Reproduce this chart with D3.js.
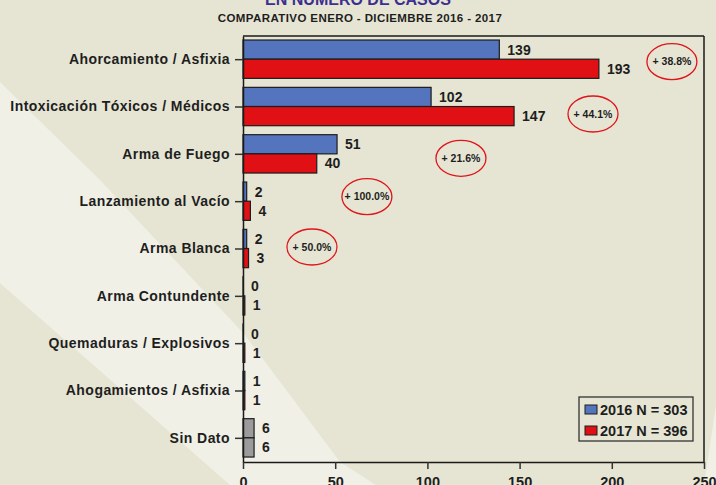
<!DOCTYPE html>
<html>
<head>
<meta charset="utf-8">
<script src="https://cdn.jsdelivr.net/npm/d3@7"></script>
<style>
  html, body { margin: 0; padding: 0; background: #e6e5d3; }
  svg { display: block; font-family: "Liberation Sans", Arial, sans-serif; }
</style>
</head>
<body>
<svg id="chart" width="716" height="485"></svg>
<script>
// ---- data ----
const categories = [
  "Ahorcamiento / Asfixia",
  "Intoxicación Tóxicos / Médicos",
  "Arma de Fuego",
  "Lanzamiento al Vacío",
  "Arma Blanca",
  "Arma Contundente",
  "Quemaduras / Explosivos",
  "Ahogamientos / Asfixia",
  "Sin Dato"
];
const values2016 = [139, 102, 51, 2, 2, 0, 0, 1, 6];
const values2017 = [193, 147, 40, 4, 3, 1, 1, 1, 6];
const xTicks = [0, 50, 100, 150, 200, 250];
const seriesNames = ["2016 N = 303", "2017 N = 396"];
const titleText = "EN NUMERO DE CASOS";
const subtitleText = "COMPARATIVO ENERO - DICIEMBRE 2016 - 2017";
const annotCategories = ["Ahorcamiento / Asfixia", "Intoxicación Tóxicos / Médicos", "Arma de Fuego", "Lanzamiento al Vacío", "Arma Blanca"];
const annotLabels = ["+ 38.8%", "+ 44.1%", "+ 21.6%", "+ 100.0%", "+ 50.0%"];
const annotXValues = [232.6, 189.8, 118.2, 67.2, 37.4];

// ---- layout ----
const W = 716, H = 485;
const plot = { left: 243, right: 704, top: 36, bottom: 462 };
const colors = { blue: "#5475bd", red: "#e11015", gray: "#9b9b9b", stroke: "#1c1c1c", text: "#1e1e1e" };

const svg = d3.select("#chart");

// background with light diagonal bands
svg.append("rect").attr("width", W).attr("height", H).attr("fill", "#e6e5d3");
svg.append("path")
  .attr("d", "M0,82 L100,180 L245,335 L340,462 L376,485 L230,485 L0,283 Z")
  .attr("fill", "#f0f0e6");
svg.append("path")
  .attr("d", "M716,405 L716,485 L704,485 Z")
  .attr("fill", "#f0f0e6");

const x = d3.scaleLinear().domain([0, 250]).range([plot.left, plot.right]);
const y = d3.scaleBand().domain(categories).range([plot.top, plot.bottom]).padding(0);
const bw = y.bandwidth();
const barOff = bw * 0.085, barH = bw * 0.405;

// frame (top and right)
svg.append("line").attr("x1", plot.left).attr("x2", plot.right).attr("y1", plot.top).attr("y2", plot.top)
  .attr("stroke", "#1a1a1a").attr("stroke-width", 1.5);
svg.append("line").attr("x1", plot.right).attr("x2", plot.right).attr("y1", plot.top).attr("y2", plot.bottom)
  .attr("stroke", "#1a1a1a").attr("stroke-width", 1.5);

// bars
const rows = categories.map((c, i) => ({ c, v16: values2016[i], v17: values2017[i] }));
const g = svg.append("g");
rows.forEach(r => {
  const isGray = r.c === "Sin Dato";
  // 2016
  g.append("rect")
    .attr("x", x(0)).attr("y", y(r.c) + barOff)
    .attr("width", Math.max(x(r.v16) - x(0), 0.01)).attr("height", barH)
    .attr("fill", isGray ? colors.gray : colors.blue)
    .attr("stroke", colors.stroke).attr("stroke-width", 1.2);
  // 2017
  g.append("rect")
    .attr("x", x(0)).attr("y", y(r.c) + barOff + barH)
    .attr("width", Math.max(x(r.v17) - x(0), 0.01)).attr("height", barH)
    .attr("fill", isGray ? colors.gray : colors.red)
    .attr("stroke", colors.stroke).attr("stroke-width", 1.2);
  // labels
  g.append("text")
    .attr("x", x(r.v16) + 8).attr("y", y(r.c) + barOff + barH / 2)
    .attr("dy", "0.36em")
    .attr("font-size", 14).attr("font-weight", "bold").attr("fill", colors.text)
    .text(r.v16);
  g.append("text")
    .attr("x", x(r.v17) + 8).attr("y", y(r.c) + barOff + barH * 1.5)
    .attr("dy", "0.36em")
    .attr("font-size", 14).attr("font-weight", "bold").attr("fill", colors.text)
    .text(r.v17);
});

// axes
const yAxis = svg.append("g").attr("transform", `translate(${plot.left},0)`)
  .call(d3.axisLeft(y).tickSize(8).tickSizeOuter(0).tickPadding(5));
yAxis.select(".domain").attr("stroke", "#1a1a1a").attr("stroke-width", 1.5);
yAxis.selectAll(".tick line").attr("stroke", "#333").attr("stroke-width", 1.5);
yAxis.selectAll(".tick text").attr("font-size", 14).attr("font-weight", "bold")
  .attr("letter-spacing", 0.45)
  .attr("fill", colors.text).attr("font-family", "Liberation Sans, Arial, sans-serif");

const xAxis = svg.append("g").attr("transform", `translate(0,${plot.bottom})`)
  .call(d3.axisBottom(x).tickValues(xTicks).tickSize(7).tickSizeOuter(0).tickPadding(8));
xAxis.select(".domain").attr("stroke", "#1a1a1a").attr("stroke-width", 1.5);
xAxis.selectAll(".tick line").attr("stroke", "#333").attr("stroke-width", 1.5);
xAxis.selectAll(".tick text").attr("font-size", 14.5).attr("font-weight", "bold")
  .attr("fill", colors.text).attr("font-family", "Liberation Sans, Arial, sans-serif");

// annotations (circled percentage changes)
const annotDy = [2, 7, 4, -5, -2];
annotCategories.forEach((c, i) => {
  const cx = x(annotXValues[i]);
  const cy = y(c) + bw / 2 + annotDy[i];
  svg.append("ellipse").attr("cx", cx).attr("cy", cy).attr("rx", 25).attr("ry", 18)
    .attr("fill", "none").attr("stroke", "#e0141a").attr("stroke-width", 1.3);
  svg.append("text").attr("x", cx).attr("y", cy).attr("dy", "0.35em")
    .attr("text-anchor", "middle").attr("font-size", 10.5).attr("font-weight", "bold")
    .attr("fill", colors.text).text(annotLabels[i]);
});

// legend
const leg = svg.append("g");
leg.append("rect").attr("x", 579).attr("y", 397).attr("width", 114).attr("height", 44)
  .attr("fill", "#e6e5d3").attr("stroke", "#333").attr("stroke-width", 1.3);
[colors.blue, colors.red].forEach((col, i) => {
  leg.append("rect").attr("x", 585).attr("y", 405 + i * 21).attr("width", 12).attr("height", 9)
    .attr("fill", col).attr("stroke", colors.stroke).attr("stroke-width", 1);
  leg.append("text").attr("x", 600).attr("y", 414.5 + i * 21)
    .attr("font-size", 14.5).attr("font-weight", "bold").attr("fill", colors.text)
    .text(seriesNames[i]);
});

// titles
svg.append("text").attr("x", 358).attr("y", 5).attr("text-anchor", "middle")
  .attr("font-size", 16).attr("font-weight", "bold").attr("fill", "#3b2f8f")
  .text(titleText);
svg.append("text").attr("x", 360).attr("y", 22).attr("text-anchor", "middle")
  .attr("font-size", 11.5).attr("font-weight", "bold").attr("letter-spacing", 0.4)
  .attr("fill", colors.text).text(subtitleText);
</script>
</body>
</html>
